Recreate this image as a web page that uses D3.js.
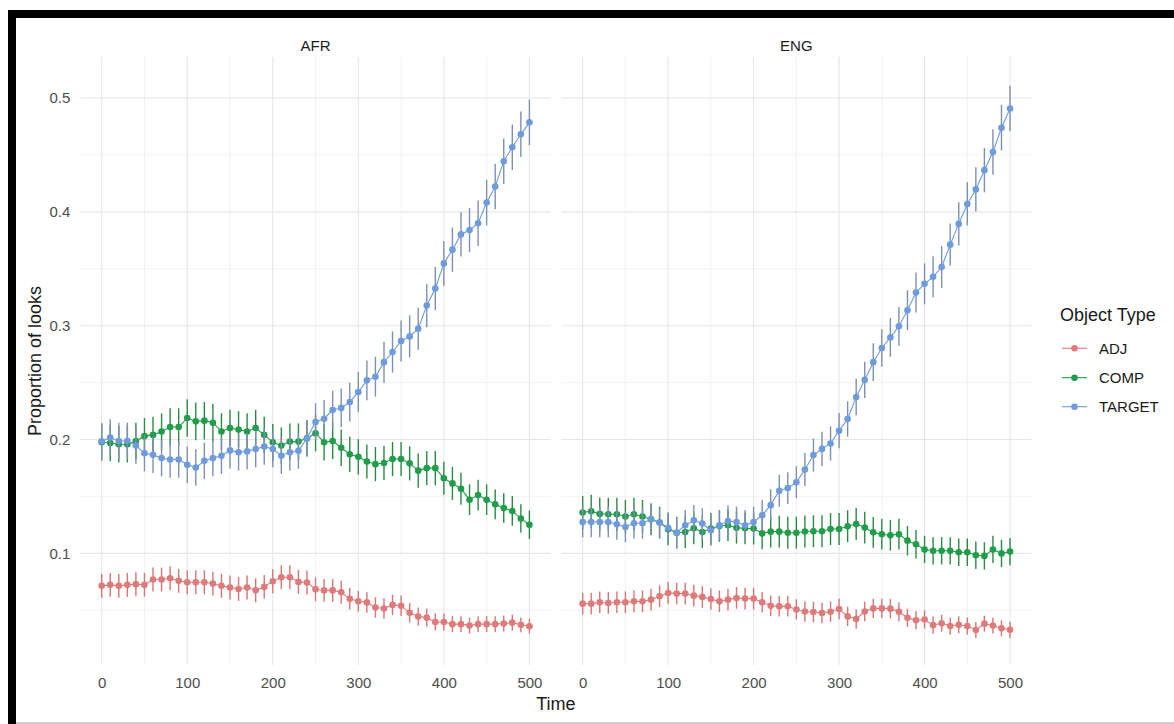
<!DOCTYPE html>
<html>
<head>
<meta charset="utf-8">
<script src="https://cdn.jsdelivr.net/npm/d3@7"></script>
<style>
  body { margin: 0; background: #fff; }
  svg { display: block; font-family: "Liberation Sans", Arial, sans-serif; }
</style>
</head>
<body>
<svg id="chart" width="1174" height="724"></svg>
<script>
// time bins (ms), one point every 10
const times = [0,10,20,30,40,50,60,70,80,90,100,110,120,130,140,150,160,170,180,190,200,
  210,220,230,240,250,260,270,280,290,300,310,320,330,340,350,360,370,380,390,400,
  410,420,430,440,450,460,470,480,490,500];

const panels = ["AFR", "ENG"];
const objectTypes = ["ADJ", "COMP", "TARGET"];

const xTicks = [0, 100, 200, 300, 400, 500];
const xMinor = [50, 150, 250, 350, 450];
const yTicks = [0.1, 0.2, 0.3, 0.4, 0.5];
const yMinor = [0.05, 0.15, 0.25, 0.35, 0.45];

// AFR
const afrAdj = [0.0715,0.0724,0.0715,0.0724,0.0730,0.0724,0.0771,0.0771,0.0782,0.0759,0.0747,
  0.0747,0.0747,0.0735,0.0715,0.0700,0.0688,0.0700,0.0676,0.0706,0.0756,
  0.0791,0.0791,0.0750,0.0744,0.0685,0.0675,0.0675,0.0659,0.0602,0.0580,
  0.0570,0.0525,0.0516,0.0548,0.0541,0.0478,0.0446,0.0436,0.0398,0.0398,
  0.0379,0.0379,0.0366,0.0379,0.0379,0.0379,0.0385,0.0392,0.0373,0.0360];
const afrComp = [0.1976,0.1970,0.1959,0.1959,0.1988,0.2030,0.2041,0.2071,0.2110,0.2110,0.2189,
  0.2160,0.2166,0.2148,0.2071,0.2101,0.2089,0.2071,0.2101,0.2041,0.1976,
  0.1947,0.1982,0.1982,0.2012,0.2056,0.1976,0.1988,0.1928,0.1870,0.1848,
  0.1807,0.1784,0.1794,0.1829,0.1829,0.1791,0.1727,0.1749,0.1749,0.1660,
  0.1615,0.1568,0.1472,0.1513,0.1472,0.1431,0.1399,0.1373,0.1306,0.1252];
const afrTarget = [0.1985,0.2018,0.1988,0.1988,0.1947,0.1880,0.1867,0.1837,0.1825,0.1825,0.1778,
  0.1754,0.1814,0.1837,0.1858,0.1905,0.1888,0.1896,0.1917,0.1938,0.1917,
  0.1858,0.1888,0.1902,0.2012,0.2154,0.2183,0.2259,0.2278,0.2329,0.2418,
  0.2520,0.2552,0.2680,0.2769,0.2865,0.2906,0.2973,0.3177,0.3327,0.3547,
  0.3668,0.3802,0.3840,0.3900,0.4082,0.4222,0.4445,0.4567,0.4681,0.4786];

// ENG
const engAdj = [0.0559,0.0559,0.0571,0.0565,0.0571,0.0571,0.0579,0.0579,0.0594,0.0624,0.0653,
  0.0647,0.0647,0.0629,0.0618,0.0600,0.0579,0.0594,0.0609,0.0603,0.0603,
  0.0571,0.0541,0.0535,0.0535,0.0508,0.0490,0.0485,0.0477,0.0488,0.0511,
  0.0447,0.0423,0.0490,0.0517,0.0517,0.0515,0.0487,0.0435,0.0412,0.0420,
  0.0370,0.0387,0.0362,0.0373,0.0362,0.0328,0.0383,0.0367,0.0342,0.0329];
const engComp = [0.1359,0.1371,0.1347,0.1344,0.1344,0.1324,0.1344,0.1324,0.1300,0.1271,0.1212,
  0.1182,0.1188,0.1220,0.1188,0.1218,0.1241,0.1247,0.1226,0.1220,0.1218,
  0.1176,0.1191,0.1191,0.1182,0.1182,0.1192,0.1195,0.1195,0.1214,0.1214,
  0.1239,0.1258,0.1227,0.1185,0.1169,0.1160,0.1169,0.1112,0.1080,0.1035,
  0.1023,0.1023,0.1023,0.1010,0.1010,0.0984,0.0978,0.1035,0.1000,0.1016];
const engTarget = [0.1276,0.1276,0.1276,0.1276,0.1256,0.1232,0.1265,0.1265,0.1300,0.1271,0.1226,
  0.1182,0.1247,0.1291,0.1262,0.1203,0.1247,0.1285,0.1276,0.1247,0.1276,
  0.1335,0.1424,0.1550,0.1574,0.1625,0.1737,0.1864,0.1918,0.1966,0.2078,
  0.2180,0.2374,0.2524,0.2680,0.2804,0.2897,0.2995,0.3136,0.3292,0.3368,
  0.3429,0.3515,0.3712,0.3894,0.4069,0.4197,0.4366,0.4525,0.4739,0.4908];

// error bar half-widths
const afrAdjErr = [0.0105,0.0105,0.0105,0.0105,0.0105,0.0105,0.0105,0.0105,0.0105,0.0105,0.0105,
  0.0105,0.0105,0.0105,0.0105,0.0105,0.0105,0.0105,0.0105,0.0105,0.0105,
  0.0105,0.0105,0.0105,0.0105,0.0105,0.0100,0.0100,0.0100,0.0095,0.0090,
  0.0090,0.0090,0.0090,0.0090,0.0090,0.0085,0.0080,0.0080,0.0075,0.0075,
  0.0070,0.0070,0.0070,0.0070,0.0070,0.0070,0.0070,0.0070,0.0065,0.0065];
const afrCompErr = [0.0160,0.0160,0.0160,0.0160,0.0160,0.0160,0.0160,0.0160,0.0165,0.0165,0.0165,
  0.0165,0.0165,0.0165,0.0160,0.0160,0.0160,0.0160,0.0160,0.0160,0.0160,
  0.0160,0.0160,0.0160,0.0160,0.0160,0.0160,0.0160,0.0160,0.0155,0.0155,
  0.0150,0.0150,0.0150,0.0150,0.0150,0.0150,0.0150,0.0150,0.0150,0.0145,
  0.0145,0.0140,0.0135,0.0135,0.0135,0.0130,0.0130,0.0130,0.0125,0.0125];
const afrTargetErr = [0.0160,0.0160,0.0160,0.0160,0.0160,0.0160,0.0160,0.0160,0.0160,0.0160,0.0160,
  0.0160,0.0160,0.0160,0.0160,0.0160,0.0160,0.0160,0.0160,0.0160,0.0160,
  0.0160,0.0160,0.0160,0.0160,0.0165,0.0165,0.0170,0.0170,0.0170,0.0175,
  0.0175,0.0175,0.0180,0.0180,0.0180,0.0185,0.0185,0.0190,0.0190,0.0195,
  0.0195,0.0195,0.0195,0.0200,0.0200,0.0200,0.0200,0.0200,0.0200,0.0200];
const engAdjErr = [0.0095,0.0095,0.0095,0.0095,0.0095,0.0095,0.0095,0.0095,0.0095,0.0095,0.0095,
  0.0095,0.0095,0.0095,0.0095,0.0095,0.0095,0.0095,0.0095,0.0095,0.0095,
  0.0090,0.0090,0.0090,0.0090,0.0090,0.0090,0.0090,0.0090,0.0090,0.0090,
  0.0085,0.0085,0.0085,0.0085,0.0085,0.0085,0.0085,0.0080,0.0080,0.0080,
  0.0075,0.0075,0.0075,0.0075,0.0075,0.0070,0.0070,0.0070,0.0070,0.0070];
const engCompErr = [0.0145,0.0145,0.0145,0.0145,0.0145,0.0145,0.0145,0.0145,0.0140,0.0140,0.0140,
  0.0140,0.0140,0.0140,0.0140,0.0140,0.0140,0.0140,0.0140,0.0140,0.0140,
  0.0140,0.0140,0.0140,0.0140,0.0140,0.0140,0.0140,0.0140,0.0140,0.0140,
  0.0140,0.0140,0.0140,0.0135,0.0135,0.0135,0.0135,0.0130,0.0125,0.0120,
  0.0120,0.0120,0.0120,0.0120,0.0120,0.0120,0.0120,0.0120,0.0120,0.0120];
const engTargetErr = [0.0135,0.0135,0.0135,0.0135,0.0135,0.0135,0.0135,0.0135,0.0135,0.0135,0.0135,
  0.0135,0.0135,0.0135,0.0135,0.0135,0.0135,0.0135,0.0135,0.0135,0.0135,
  0.0135,0.0140,0.0140,0.0140,0.0140,0.0145,0.0145,0.0150,0.0150,0.0155,
  0.0155,0.0160,0.0160,0.0165,0.0165,0.0170,0.0170,0.0175,0.0175,0.0180,
  0.0180,0.0185,0.0185,0.0190,0.0190,0.0195,0.0195,0.0200,0.0200,0.0200];

const colors = { ADJ: "#df7a7a", COMP: "#1f9d48", TARGET: "#6d9bdc" };
const barColors = { ADJ: "#d97474", COMP: "#2a8a44", TARGET: "#7c90b2" };

const values = {
  AFR: { ADJ: afrAdj, COMP: afrComp, TARGET: afrTarget },
  ENG: { ADJ: engAdj, COMP: engComp, TARGET: engTarget }
};
const errors = {
  AFR: { ADJ: afrAdjErr, COMP: afrCompErr, TARGET: afrTargetErr },
  ENG: { ADJ: engAdjErr, COMP: engCompErr, TARGET: engTargetErr }
};

const svg = d3.select("#chart");

let plotTop = 57, plotBottom = 665;
let panelRange = { AFR: [80.3, 550.8], ENG: [561.3, 1031.4] };

let y = d3.scaleLinear().domain([0.002, 0.536]).range([plotBottom, plotTop]);

panels.forEach(p => {
  let x = d3.scaleLinear().domain([-25, 525]).range(panelRange[p]);
  let g = svg.append("g");
  let [x0, x1] = panelRange[p];

  // grid
  g.selectAll(".ymin").data(yMinor).enter().append("line")
      .attr("x1", x0).attr("x2", x1)
      .attr("y1", d => y(d)).attr("y2", d => y(d))
      .attr("stroke", "#f0f0f0").attr("stroke-width", 0.8);
  g.selectAll(".xmin").data(xMinor).enter().append("line")
      .attr("y1", plotTop).attr("y2", plotBottom)
      .attr("x1", d => x(d)).attr("x2", d => x(d))
      .attr("stroke", "#f0f0f0").attr("stroke-width", 0.8);
  g.selectAll(".ymaj").data(yTicks).enter().append("line")
      .attr("x1", x0).attr("x2", x1)
      .attr("y1", d => y(d)).attr("y2", d => y(d))
      .attr("stroke", "#e6e6e6").attr("stroke-width", 1.1);
  g.selectAll(".xmaj").data(xTicks).enter().append("line")
      .attr("y1", plotTop).attr("y2", plotBottom)
      .attr("x1", d => x(d)).attr("x2", d => x(d))
      .attr("stroke", "#e6e6e6").attr("stroke-width", 1.1);

  // strip label
  g.append("text")
      .attr("x", (x0 + x1) / 2).attr("y", 50.5)
      .attr("text-anchor", "middle")
      .attr("font-size", 15).attr("fill", "#1a1a1a")
      .text(p);

  // x axis
  let xa = g.append("g")
      .attr("transform", "translate(0," + plotBottom + ")")
      .call(d3.axisBottom(x).tickValues(xTicks).tickSize(0).tickPadding(12));
  xa.select(".domain").remove();
  xa.selectAll("text").attr("font-size", 15).attr("fill", "#4d4d4d")
      .attr("font-family", "'Liberation Sans', Arial, sans-serif");

  if (p === "AFR") {
    let ya = g.append("g")
        .attr("transform", "translate(" + x0 + ",0)")
        .call(d3.axisLeft(y).tickValues(yTicks).tickSize(0).tickPadding(10).tickFormat(d3.format(".1f")));
    ya.select(".domain").remove();
    ya.selectAll("text").attr("font-size", 15).attr("fill", "#4d4d4d")
        .attr("font-family", "'Liberation Sans', Arial, sans-serif");
  }

  let line = d3.line()
      .x(d => x(d.t))
      .y(d => y(d.v));

  objectTypes.forEach(s => {
    let pts = times.map((t, i) => ({ t: t, v: values[p][s][i], e: errors[p][s][i] }));
    let sg = g.append("g");

    sg.selectAll("line.err").data(pts).enter().append("line")
        .attr("class", "err")
        .attr("x1", d => x(d.t)).attr("x2", d => x(d.t))
        .attr("y1", d => y(d.v - d.e)).attr("y2", d => y(d.v + d.e))
        .attr("stroke", barColors[s]).attr("stroke-width", 1.4);

    sg.append("path")
        .datum(pts)
        .attr("fill", "none")
        .attr("stroke", colors[s])
        .attr("stroke-width", 1.1)
        .attr("d", line);

    sg.selectAll("circle").data(pts).enter().append("circle")
        .attr("cx", d => x(d.t)).attr("cy", d => y(d.v))
        .attr("r", 3.3)
        .attr("fill", colors[s]);
  });
});

// axis titles
svg.append("text")
    .attr("x", (80.3 + 1031.4) / 2).attr("y", 710)
    .attr("text-anchor", "middle")
    .attr("font-size", 18).attr("fill", "#1a1a1a")
    .text("Time");

svg.append("text")
    .attr("transform", "translate(41," + (plotTop + plotBottom) / 2 + ") rotate(-90)")
    .attr("text-anchor", "middle")
    .attr("font-size", 18).attr("fill", "#1a1a1a")
    .text("Proportion of looks");

// legend
let legend = svg.append("g");
legend.append("text")
    .attr("x", 1060).attr("y", 321)
    .attr("font-size", 18).attr("fill", "#1a1a1a")
    .text("Object Type");

let keyY = [348.3, 377.7, 406.7];
let keys = legend.selectAll(".key").data(objectTypes).enter().append("g")
    .attr("transform", (d, i) => "translate(0," + keyY[i] + ")");
keys.append("line")
    .attr("x1", 1062).attr("x2", 1087)
    .attr("stroke", d => colors[d]).attr("stroke-width", 1.1);
keys.append("circle")
    .attr("cx", 1074.5).attr("r", 3.3)
    .attr("fill", d => colors[d]);
keys.append("text")
    .attr("x", 1099).attr("y", 5.3)
    .attr("font-size", 15).attr("fill", "#1a1a1a")
    .text(d => d);

// frame around the screenshot
svg.append("rect").attr("x", 8).attr("y", 10).attr("width", 1166).attr("height", 8).attr("fill", "#000");
svg.append("rect").attr("x", 8).attr("y", 10).attr("width", 8).attr("height", 714).attr("fill", "#000");
svg.append("rect").attr("x", 16).attr("y", 722).attr("width", 1158).attr("height", 2).attr("fill", "#cfcfcf");
</script>
</body>
</html>
